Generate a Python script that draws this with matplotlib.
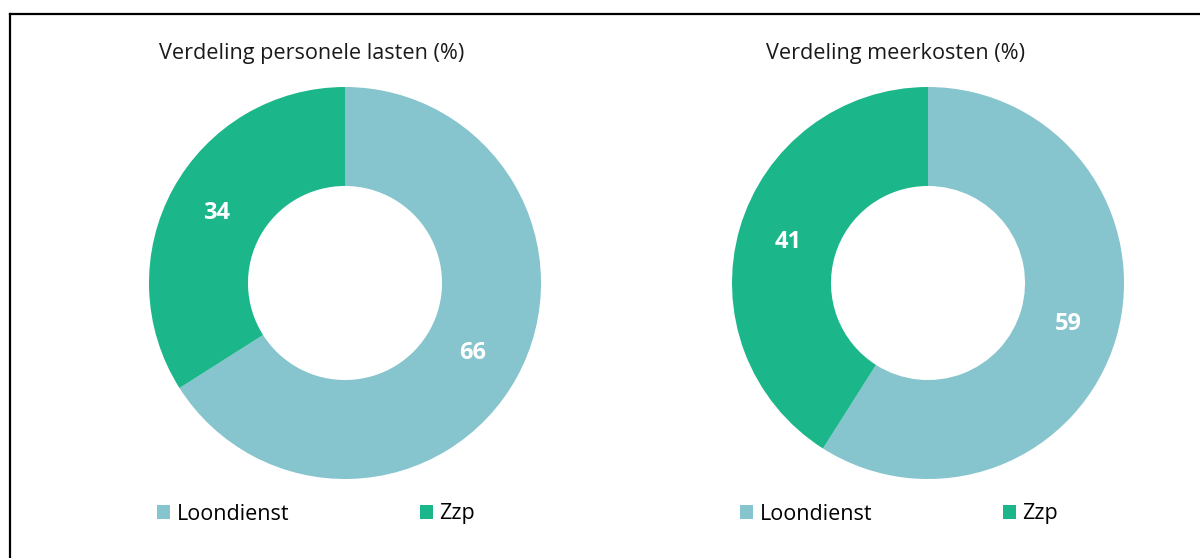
import matplotlib
matplotlib.use("Agg")
import matplotlib.pyplot as plt
from matplotlib.lines import Line2D

plt.rcParams['font.family'] = ['Open Sans', 'DejaVu Sans']

# gegevens
categorieen = ['Loondienst', 'Zzp']
personele_lasten = [66, 34]
meerkosten = [59, 41]
titels = ['Verdeling personele lasten (%)', 'Verdeling meerkosten (%)']
kleuren = ['#86C4CE', '#1BB68A']

W, H = 1200, 558
fig = plt.figure(figsize=(W / 100, H / 100), dpi=100)

# kader (linker- en bovenrand)
fig.add_artist(Line2D([9.5 / W, 9.5 / W], [0, 1 - 14 / H], color='black',
                      linewidth=1.6, transform=fig.transFigure))
fig.add_artist(Line2D([9.5 / W, 1], [1 - 14 / H, 1 - 14 / H], color='black',
                      linewidth=1.6, transform=fig.transFigure))

middens = [345, 928]
straal = 196

for i, (waarden, titel) in enumerate(zip([personele_lasten, meerkosten], titels)):
    cx = middens[i]
    cy = 283
    ax = fig.add_axes([(cx - straal) / W, (H - cy - straal) / H,
                       2 * straal / W, 2 * straal / H])
    wedges, _, autotexts = ax.pie(
        waarden, colors=kleuren, startangle=90, counterclock=False,
        radius=1.0, autopct=lambda p: '%d' % round(p), pctdistance=0.745,
        wedgeprops=dict(width=0.505, linewidth=0),
    )
    for t in autotexts:
        t.set_color('white')
        t.set_fontsize(17)
        t.set_fontweight('bold')
    ax.set_xlim(-1, 1)
    ax.set_ylim(-1, 1)
    ax.set_aspect('equal')
    ax.axis('off')

    fig.text((cx - 33) / W, 1 - 53 / H, titel, ha='center', va='center',
             fontsize=15.6, color='#1a1a1a')

    lx = cx - 188
    fig.legend(wedges, categorieen, loc='center left',
               bbox_to_anchor=(lx / W, 1 - 514 / H), ncol=2, frameon=False,
               fontsize=15.5, handlelength=0.62, handleheight=0.62,
               handletextpad=0.3, columnspacing=6.05, borderpad=0,
               borderaxespad=0)

fig.savefig('out.png', dpi=100, facecolor='white')
